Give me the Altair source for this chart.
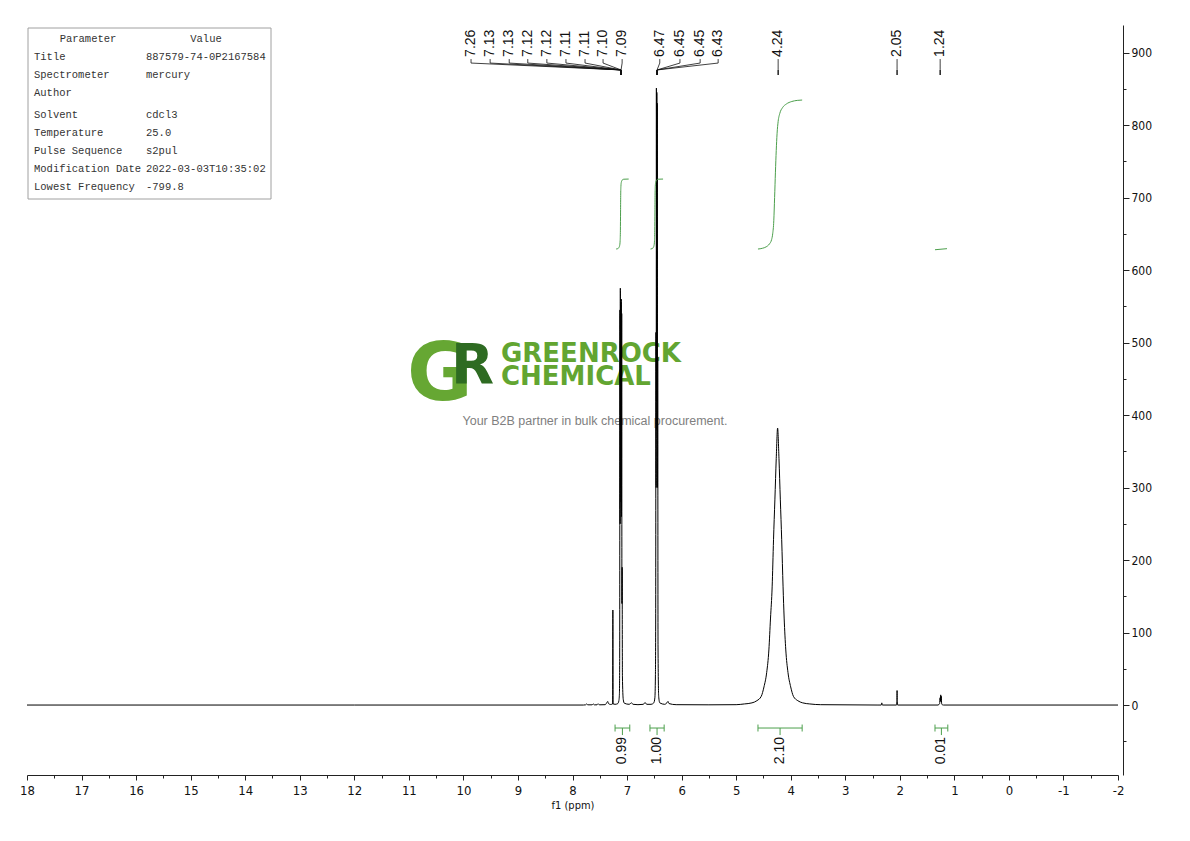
import altair as alt
import pandas as pd

# ---------------- data ----------------
spec_ppm = [18.0, 12.0, 7.80, 7.76, 7.74, 7.72, 7.64, 7.62, 7.60, 7.55, 7.53, 7.51,
            7.40, 7.37, 7.355, 7.34, 7.30, 7.265, 7.26, 7.255, 7.22,
            7.17, 7.15, 7.14, 7.135, 7.13, 7.127, 7.123, 7.118, 7.114, 7.11,
            7.106, 7.102, 7.098, 7.094, 7.09, 7.085, 7.07, 7.05,
            6.96, 6.92, 6.89, 6.80, 6.70, 6.67, 6.64, 6.56,
            6.51, 6.49, 6.48, 6.475, 6.47, 6.466, 6.462, 6.458, 6.454, 6.45,
            6.446, 6.442, 6.438, 6.432, 6.42, 6.40,
            6.31, 6.27, 6.25, 6.23, 6.10, 5.50,
            5.00, 4.85, 4.71, 4.62, 4.54, 4.49, 4.44, 4.40, 4.37, 4.34, 4.315, 4.29, 4.265,
            4.24,
            4.215, 4.19, 4.165, 4.14, 4.12, 4.09, 4.05, 4.00, 3.95, 3.87, 3.78, 3.65, 3.45,
            2.40, 2.34, 2.33, 2.32, 2.06, 2.053, 2.05, 2.047, 2.04,
            1.30, 1.27, 1.262, 1.255, 1.25, 1.245, 1.24, 1.235, 1.23, 1.20, -2.0]
spec_int = [0, 0, 0, 0.3, 1.5, 0.3, 0.3, 1.5, 0.3, 0.3, 1.8, 0.3,
            0.5, 3.5, 5, 2, 0.8, 1.5, 131, 1.5, 1,
            2, 6, 15, 60, 545, 250, 575, 300, 555, 280,
            560, 260, 540, 140, 190, 40, 8, 2.5,
            1, 3, 1, 0.5, 1, 3.5, 1, 1,
            3, 10, 40, 120, 514, 300, 851, 420, 845, 380,
            830, 300, 480, 80, 12, 3,
            1, 3, 5, 2, 0.5, 0.3,
            0.5, 1.5, 3, 6, 12, 25, 45, 76, 120, 163, 228, 283, 340,
            382,
            340, 283, 228, 163, 120, 76, 45, 25, 12, 6, 3, 1.5, 0.5,
            0, 0, 3, 0, 0, 5, 20, 5, 0,
            0, 2, 10, 5, 14, 6, 12, 4, 1, 0, 0]
assert len(spec_ppm) == len(spec_int)

peak_labels = ["7.26", "7.13", "7.13", "7.12", "7.12", "7.11", "7.11", "7.10", "7.09",
               "6.47", "6.45", "6.45", "6.43", "4.24", "2.05", "1.24"]
peak_label_pos = [9.86, 9.51, 9.16, 8.82, 8.47, 8.12, 7.77, 7.44, 7.09,
                  6.40, 6.03, 5.66, 5.33, 4.23, 2.05, 1.26]
peak_joint = [7.11] * 9 + [6.45] * 4 + [4.23, 2.05, 1.26]

integ_start = [7.22, 6.58, 4.60, 1.355]
integ_end = [6.95, 6.32, 3.79, 1.12]
integ_values = ["0.99", "1.00", "2.10", "0.01"]

curve_a_ppm = [7.20, 7.17, 7.15, 7.135, 7.127, 7.122, 7.119, 7.116, 7.112, 7.105, 7.09, 7.06, 6.97]
curve_a_val = [629, 629.5, 631, 634, 640, 655, 680, 705, 716, 721, 724, 725.3, 725.5]
curve_b_ppm = [6.57, 6.54, 6.52, 6.505, 6.497, 6.492, 6.489, 6.486, 6.482, 6.475, 6.46, 6.43, 6.34]
curve_b_val = [629, 629.5, 631, 634, 640, 655, 680, 705, 716, 721, 724, 725.3, 725.5]
curve_c_ppm = [4.60, 4.52, 4.45, 4.39, 4.35, 4.33, 4.31, 4.295, 4.28, 4.265, 4.25, 4.23,
               4.20, 4.15, 4.08, 3.98, 3.88, 3.79]
curve_c_val = [629, 630, 632, 636, 642, 650, 668, 700, 735, 765, 788, 805,
               816, 824, 829, 832.5, 834, 834.5]
curve_d_ppm = [1.355, 1.135]
curve_d_val = [628, 629.5]

param_names = ["Title", "Spectrometer", "Author", "Solvent", "Temperature",
               "Pulse Sequence", "Modification Date", "Lowest Frequency"]
param_values = ["887579-74-0P2167584", "mercury", "", "cdcl3", "25.0",
                "s2pul", "2022-03-03T10:35:02", "-799.8"]

x_ticks = [v / 2 for v in range(-4, 37)]
y_ticks = list(range(-50, 901, 50))

# ---------------- styling ----------------
COND = "Liberation Sans Narrow, DejaVu Sans Condensed, Roboto Condensed, Roboto, sans-serif"
SANS = "Liberation Sans, Arial, sans-serif"
MONO = "Liberation Mono, DejaVu Sans Mono, monospace"
GREEN = "#4c9f4c"
AX = "#222222"

xscale = alt.Scale(domain=[-2, 18], reverse=True, nice=False, zero=False)
yscale = alt.Scale(domain=[-96.5, 938], nice=False, zero=False)

xaxis = alt.Axis(values=x_ticks,
                 labelExpr="datum.value % 1 === 0 ? '' + datum.value : ''",
                 tickSize={"condition": {"test": "datum.value % 1 === 0", "value": 5}, "value": 3},
                 title="f1 (ppm)", titleFont=COND, titleFontSize=11, titleFontWeight="normal",
                 titlePadding=2, titleColor="#111",
                 labelFont=COND, labelFontSize=13, labelPadding=4, labelColor="#111",
                 domainColor=AX, tickColor=AX, grid=False, labelOverlap=False, labelFlush=False)
yaxis = alt.Axis(orient="right", offset=5, values=y_ticks,
                 labelExpr="datum.value % 100 === 0 ? '' + datum.value : ''",
                 tickSize={"condition": {"test": "datum.value % 100 === 0", "value": 6}, "value": 3},
                 title=None, labelFont=COND, labelFontSize=12, labelPadding=2, labelColor="#111",
                 domainColor=AX, tickColor=AX, grid=False, labelOverlap=False, labelFlush=False)


def X(field):
    return alt.X(f"{field}:Q", scale=xscale, axis=xaxis)


def Y(field):
    return alt.Y(f"{field}:Q", scale=yscale, axis=yaxis)


one = pd.DataFrame({"k": [0]})

# ---------------- logo (watermark) ----------------
logo_g = alt.Chart(one).mark_text(text="G", font="DejaVu Sans", fontWeight="bold", fontSize=80,
                                  color="#66a733", align="left", baseline="alphabetic").encode(
    x=alt.value(380), y=alt.value(375))
logo_r = alt.Chart(one).mark_text(text="R", font="DejaVu Sans", fontWeight="bold", fontSize=56,
                                  color="#2e6b22", align="left", baseline="alphabetic").encode(
    x=alt.value(424), y=alt.value(358))
logo_t1 = alt.Chart(one).mark_text(text="GREENROCK", font="DejaVu Sans", fontWeight="bold", fontSize=26,
                                   color="#62a531", align="left", baseline="alphabetic").encode(
    x=alt.value(474), y=alt.value(337))
logo_t2 = alt.Chart(one).mark_text(text="CHEMICAL", font="DejaVu Sans", fontWeight="bold", fontSize=26,
                                   color="#62a531", align="left", baseline="alphabetic").encode(
    x=alt.value(474), y=alt.value(360))
tagline = alt.Chart(one).mark_text(text="Your B2B partner in bulk chemical procurement.", font=SANS,
                                   fontSize=12.5, color="#808080", align="center", baseline="middle").encode(
    x=alt.value(568), y=alt.value(396))

# ---------------- spectrum ----------------
spec_df = pd.DataFrame({"ppm": spec_ppm, "intensity": spec_int, "i": range(len(spec_ppm))})
spectrum = alt.Chart(spec_df).mark_line(color="black", strokeWidth=1, strokeJoin="bevel",
                                        interpolate="monotone").encode(
    x=X("ppm"), y=Y("intensity"), order=alt.Order("i:Q"))

# ---------------- integral curves ----------------
curves = []
for cid, (cp, cv) in enumerate([(curve_a_ppm, curve_a_val), (curve_b_ppm, curve_b_val),
                                (curve_c_ppm, curve_c_val), (curve_d_ppm, curve_d_val)]):
    for j, (p, v) in enumerate(zip(cp, cv)):
        curves.append({"ppm": p, "intensity": v, "cid": cid, "j": j})
curve_df = pd.DataFrame(curves)
integ_curves = alt.Chart(curve_df).mark_line(color=GREEN, strokeWidth=1, interpolate="monotone").encode(
    x=X("ppm"), y=Y("intensity"), detail="cid:N", order=alt.Order("j:Q"))

# ---------------- integral bars + labels ----------------
bar_df = pd.DataFrame({"s": integ_start, "e": integ_end, "lab": integ_values})
bar_df["c"] = (bar_df["s"] + bar_df["e"]) / 2
bar_df["yb"] = -31.7
bar_df["yc1"] = -26.9
bar_df["yc2"] = -36.5
bar_df["ys"] = -41.4
bar_df["yt"] = -44.1
bars = alt.Chart(bar_df).mark_rule(color=GREEN, strokeWidth=1).encode(
    x=X("s"), x2="e", y=Y("yb"))
caps_l = alt.Chart(bar_df).mark_rule(color=GREEN, strokeWidth=1).encode(
    x=X("s"), y=Y("yc1"), y2="yc2")
caps_r = alt.Chart(bar_df).mark_rule(color=GREEN, strokeWidth=1).encode(
    x=X("e"), y=Y("yc1"), y2="yc2")
stems = alt.Chart(bar_df).mark_rule(color=GREEN, strokeWidth=1).encode(
    x=X("c"), y=Y("yb"), y2="ys")
bar_text = alt.Chart(bar_df).mark_text(angle=270, align="right", baseline="middle", font=SANS,
                                       fontSize=14, color="#111").encode(
    x=X("c"), y=Y("yt"), text="lab:N")

# ---------------- peak labels ----------------
lab_df = pd.DataFrame({"lab": peak_labels, "lx": peak_label_pos, "jx": peak_joint})
lab_df["ytext"] = 894.0
lab_df["ytop"] = 891.0
lab_df["yknee"] = 885.5
lab_df["yjoint"] = 876.0
lab_df["ybot"] = 869.0
lead1 = alt.Chart(lab_df).mark_rule(color="#111", strokeWidth=0.8).encode(
    x=X("lx"), y=Y("ytop"), y2="yknee")
lead2 = alt.Chart(lab_df).mark_rule(color="#111", strokeWidth=0.8).encode(
    x=X("lx"), y=Y("yknee"), x2="jx", y2="yjoint")
lead3 = alt.Chart(lab_df).mark_rule(color="#111", strokeWidth=1.4).encode(
    x=X("jx"), y=Y("yjoint"), y2="ybot")
lab_text = alt.Chart(lab_df).mark_text(angle=270, align="left", baseline="middle", font=SANS,
                                       fontSize=14, color="#111").encode(
    x=X("lx"), y=Y("ytext"), text="lab:N")

main = alt.layer(logo_g, logo_r, logo_t1, logo_t2, tagline,
                 spectrum, integ_curves, bars, caps_l, caps_r, stems, bar_text,
                 lead1, lead2, lead3, lab_text)

# ---------------- parameter table ----------------
tab_df = pd.DataFrame({"name": param_names, "val": param_values,
                       "row": list(range(1, len(param_names) + 1))})
box = alt.Chart(one).mark_rect(fillOpacity=0, stroke="#a0a0a0", strokeWidth=1).encode(
    x=alt.value(1), x2=alt.value(244), y=alt.value(3), y2=alt.value(174))
head1 = alt.Chart(one).mark_text(text="Parameter", font=MONO, fontSize=10.5, color="#333",
                                 align="center", baseline="middle").encode(x=alt.value(61), y=alt.value(14))
head2 = alt.Chart(one).mark_text(text="Value", font=MONO, fontSize=10.5, color="#333",
                                 align="center", baseline="middle").encode(x=alt.value(179), y=alt.value(14))
tab_y = alt.Y("pos:Q", scale=alt.Scale(domain=[0, 8.22], range=[14, 162]), axis=None)
col1 = alt.Chart(tab_df).transform_calculate(
    pos="datum.row + (datum.row >= 4 ? 0.22 : 0)").mark_text(
    font=MONO, fontSize=10.5, color="#333", align="left", baseline="middle").encode(
    x=alt.value(7), y=tab_y, text="name:N")
col2 = alt.Chart(tab_df).transform_calculate(
    pos="datum.row + (datum.row >= 4 ? 0.22 : 0)").mark_text(
    font=MONO, fontSize=10.5, color="#333", align="left", baseline="middle").encode(
    x=alt.value(119), y=tab_y, text="val:N")
table = alt.layer(box, head1, head2, col1, col2)

chart = alt.layer(main, table).resolve_scale(y="independent").properties(
    width=1091, height=750,
    autosize=alt.AutoSizeParams(type="none"),
    padding={"left": 19, "top": 17, "right": 50, "bottom": 45},
    background="white",
).configure_view(stroke=None)

chart.save("out.html", embed_options={"renderer": "svg", "actions": False})
